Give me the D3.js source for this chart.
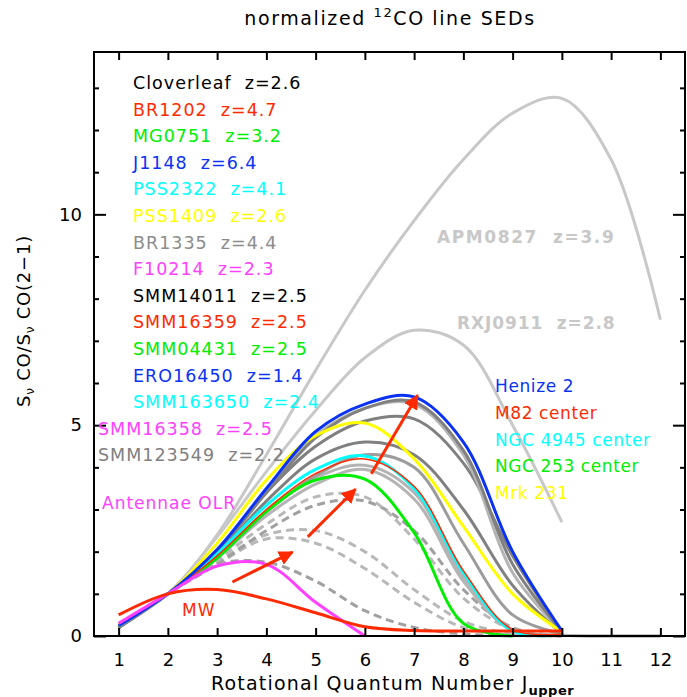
<!DOCTYPE html>
<html>
<head>
<meta charset="utf-8">
<script src="https://cdn.jsdelivr.net/npm/d3@7"></script>
<style>
  html, body { margin: 0; padding: 0; background: #fff; }
  svg { display: block; }
  text { font-family: "DejaVu Sans", sans-serif; }
</style>
</head>
<body>
<div id="chart"></div>
<script>
// Upper rotational level of each CO transition
const jUpper = [1, 2, 3, 4, 5, 6, 7, 8, 9, 10, 11, 12];

// Line fluxes normalised to CO(2-1), one array per source
const apm0827   = [0.25, 1, 2.4, 4.3, 6.3, 8.2, 9.85, 11.3, 12.4, 12.75, 11.3, 7.5];
const rxj0911   = [0.22, 1, 2.35, 3.9, 5.35, 6.6, 7.25, 6.9, 5.0, 2.7];
const henize2   = [0.25, 1, 2.05, 3.5, 4.85, 5.5, 5.67, 4.6, 2.0, 0.12];
const m82       = [0.25, 1, 1.9, 3.0, 3.85, 4.2, 3.55, 1.55, 0.15, 0.05];
const ngc4945   = [0.25, 1, 1.95, 3.1, 3.95, 4.27, 3.5, 1.5, 0.12, 0.03];
const ngc253    = [0.25, 1, 1.85, 2.95, 3.7, 3.72, 2.45, 0.3, 0.0];
const mrk231    = [0.28, 1, 2.2, 3.7, 4.75, 5.05, 4.2, 2.6, 1.0, 0.1];
const antennae  = [0.3, 1, 1.66, 1.7, 0.8, 0.0];
const milkyWay  = [0.5, 1.0, 1.1, 0.88, 0.55, 0.22, 0.13, 0.12, 0.12, 0.12];

// High-redshift sources (grey curves)
const hzDark1   = [0.2, 1, 2.0, 3.4, 4.7, 5.4, 5.55, 4.4, 1.7, 0.1];
const hzLight1  = [0.22, 1, 2.05, 3.45, 4.75, 5.4, 5.5, 4.3, 1.5, 0.1];
const hzDark2   = [0.2, 1, 2.0, 3.4, 4.5, 5.1, 5.15, 4.1, 1.9, 0.1];
const hzDark3   = [0.2, 1, 1.95, 3.2, 4.2, 4.6, 4.3, 3.0, 1.2, 0.05];
const hzMid1    = [0.2, 1, 1.85, 2.95, 3.8, 4.3, 4.0, 2.2, 0.5, 0.05];
const hzLight2  = [0.22, 1, 1.9, 2.95, 3.75, 4.05, 3.4, 1.4, 0.15, 0.02, 0.0, 0.0];
const hzLight3  = [0.22, 1, 1.85, 2.85, 3.6, 3.95, 3.25, 1.3, 0.12, 0.02, 0.0, 0.0];
const hzDash1   = [0.2, 1, 1.8, 2.65, 3.3, 3.3, 2.3, 0.9, 0.15, 0.0];
const hzDash2   = [0.2, 1, 1.7, 2.5, 3.1, 3.2, 2.5, 1.1, 0.2, 0.0];
const hzDash3   = [0.2, 1, 1.75, 2.4, 2.5, 2.0, 1.1, 0.35, 0.05, 0.0];
const hzDash4   = [0.2, 1, 1.7, 2.3, 2.2, 1.6, 0.8, 0.2, 0.02, 0.0];
const hzDash5   = [0.25, 1, 1.7, 1.75, 1.3, 0.6, 0.2, 0.05, 0.0];

// Arrows marking the trend towards higher excitation: [J0, v0, J1, v1]
const arrows = [
  [3.31, 1.28, 4.53, 1.99],
  [4.84, 2.35, 5.81, 3.48],
  [6.13, 3.85, 7.07, 5.71]
];

// Legend entries
const legendNames = ["Cloverleaf  z=2.6", "BR1202  z=4.7", "MG0751  z=3.2", "J1148  z=6.4",
  "PSS2322  z=4.1", "PSS1409  z=2.6", "BR1335  z=4.4", "F10214  z=2.3", "SMM14011  z=2.5",
  "SMM16359  z=2.5", "SMM04431  z=2.5", "ERO16450  z=1.4", "SMM163650  z=2.4",
  "SMM16358  z=2.5", "SMM123549  z=2.2"];
const localNames = ["Henize 2", "M82 center", "NGC 4945 center", "NGC 253 center", "Mrk 231"];

// Axis ticks
const xTicks = [1, 2, 3, 4, 5, 6, 7, 8, 9, 10, 11, 12];
const yMajor = [0, 5, 10];
const yMinor = [1, 2, 3, 4, 6, 7, 8, 9, 11, 12, 13];

// ---- styling ----
const C = {
  black: "#000000", red: "#ff2a00", green: "#00ee00", blue: "#0a32f5",
  cyan: "#00ffff", yellow: "#ffff00", gray: "#8c8c8c", magenta: "#ff40ff",
  dark: "#808080", mid: "#9c9c9c", light: "#b4b4b4", pale: "#c8c8c8", dash: "#b8b8b8", dashDark: "#a0a0a0"
};
const legendColors = [C.black, C.red, C.green, C.blue, C.cyan, C.yellow, C.gray, C.magenta,
  C.black, C.red, C.green, C.blue, C.cyan, C.magenta, "#808080"];
const localColors = [C.blue, C.red, C.cyan, C.green, C.yellow];

const series = [
  { v: hzDash5, color: C.dashDark, dash: "8,5" },
  { v: hzDash4, color: C.dash, dash: "8,5" },
  { v: hzDash3, color: C.dash, dash: "8,5" },
  { v: hzDash2, color: C.dashDark, dash: "8,5" },
  { v: hzDash1, color: C.dash, dash: "8,5" },
  { v: apm0827, color: C.pale },
  { v: rxj0911, color: C.pale },
  { v: hzLight3, color: C.light },
  { v: hzLight2, color: C.light },
  { v: hzMid1, color: C.mid },
  { v: hzDark3, color: C.dark },
  { v: hzDark2, color: C.dark },
  { v: hzLight1, color: C.light },
  { v: hzDark1, color: C.dark },
  { v: ngc253, color: C.green },
  { v: ngc4945, color: C.cyan },
  { v: m82, color: C.red, width: 1.5 },
  { v: mrk231, color: C.yellow },
  { v: henize2, color: C.blue },
  { v: antennae, color: C.magenta },
  { v: milkyWay, color: C.red }
];

const W = 687, H = 697;
const padL = 94, padR = 685, padT = 52, padB = 636;

const svg = d3.select("#chart").append("svg").attr("width", W).attr("height", H);

const x = d3.scaleLinear().domain([0.5, 12.5]).range([padL, padR]);
const y = d3.scaleLinear().domain([0, 13.85]).range([padB, padT]);

const defs = svg.append("defs");
defs.append("clipPath").attr("id", "plot")
  .append("rect").attr("x", padL).attr("y", padT).attr("width", padR - padL).attr("height", padB - padT + 2);

const line = d3.line()
  .x((d, i) => x(jUpper[i]))
  .y(d => y(d))
  .curve(d3.curveCatmullRom.alpha(0.5));

const gLines = svg.append("g").attr("clip-path", "url(#plot)");
series.forEach(s => {
  gLines.append("path")
    .attr("d", line(s.v))
    .attr("fill", "none")
    .attr("stroke", s.color)
    .attr("stroke-width", s.width || 3)
    .attr("stroke-dasharray", s.dash || null)
    .attr("stroke-linejoin", "round");
});

// Arrows
defs.append("marker").attr("id", "head").attr("viewBox", "0 0 10 10")
  .attr("refX", 9).attr("refY", 5).attr("markerWidth", 5).attr("markerHeight", 5)
  .attr("markerUnits", "strokeWidth").attr("orient", "auto")
  .append("path").attr("d", "M0,0 L10,5 L0,10 Z").attr("fill", C.red);
svg.append("g").selectAll("line").data(arrows).join("line")
  .attr("x1", d => x(d[0])).attr("y1", d => y(d[1]))
  .attr("x2", d => x(d[2])).attr("y2", d => y(d[3]))
  .attr("stroke", C.red).attr("stroke-width", 3)
  .attr("marker-end", "url(#head)");

// Axes with inward ticks on all four sides
const fs = 18;
const gx = svg.append("g").attr("transform", `translate(0,${padB})`)
  .call(d3.axisBottom(x).tickValues(xTicks).tickSize(-8).tickPadding(17).tickFormat(d3.format("d")));
const gxt = svg.append("g").attr("transform", `translate(0,${padT})`)
  .call(d3.axisTop(x).tickValues(xTicks).tickSize(-8).tickFormat(""));
const gy = svg.append("g").attr("transform", `translate(${padL},0)`)
  .call(d3.axisLeft(y).tickValues(yMajor).tickSize(-12).tickPadding(12).tickFormat(d3.format("d")));
const gym = svg.append("g").attr("transform", `translate(${padL},0)`)
  .call(d3.axisLeft(y).tickValues(yMinor).tickSize(-5).tickFormat(""));
const gyr = svg.append("g").attr("transform", `translate(${padR},0)`)
  .call(d3.axisRight(y).tickValues(yMajor).tickSize(-12).tickFormat(""));
const gyrm = svg.append("g").attr("transform", `translate(${padR},0)`)
  .call(d3.axisRight(y).tickValues(yMinor).tickSize(-5).tickFormat(""));
[gx, gxt, gy, gym, gyr, gyrm].forEach(g => {
  g.select(".domain").remove();
  g.selectAll(".tick line").attr("stroke", "#000").attr("stroke-width", 2);
  g.selectAll(".tick text").attr("font-size", fs).attr("fill", "#000")
    .attr("font-family", "DejaVu Sans, sans-serif");
});

svg.append("rect").attr("x", padL).attr("y", padT)
  .attr("width", padR - padL).attr("height", padB - padT)
  .attr("fill", "none").attr("stroke", "#000").attr("stroke-width", 2);

// Title
const title = svg.append("text").attr("x", 390).attr("y", 25).attr("text-anchor", "middle")
  .attr("font-size", 19).attr("letter-spacing", 1.6);
title.append("tspan").text("normalized ");
title.append("tspan").attr("font-size", 13).attr("dy", -8).text("12");
title.append("tspan").attr("dy", 8).text("CO line SEDs");

// X axis title
const xt = svg.append("text").attr("x", 211).attr("y", 690).attr("font-size", 19).attr("letter-spacing", 1.2);
xt.append("tspan").text("Rotational Quantum Number J");
xt.append("tspan").attr("font-size", 13).attr("font-weight", "bold").attr("letter-spacing", 0.5)
  .attr("dy", 5).text("upper");

// Y axis title
const yt = svg.append("text").attr("transform", "translate(30,321) rotate(-90)")
  .attr("text-anchor", "middle").attr("font-size", 18).attr("letter-spacing", 0.8);
yt.append("tspan").text("S");
yt.append("tspan").attr("font-size", 12).attr("dy", 4).text("ν");
yt.append("tspan").attr("dy", -4).text(" CO/S");
yt.append("tspan").attr("font-size", 12).attr("dy", 4).text("ν");
yt.append("tspan").attr("dy", -4).text(" CO(2\u22121)");

// Legend of high-z sources
const legX = [133, 133, 133, 133, 133, 133, 133, 133, 133, 133, 133, 133, 133, 98, 98];
svg.append("g").selectAll("text").data(legendNames).join("text")
  .attr("x", (d, i) => legX[i])
  .attr("y", (d, i) => 89 + i * 26.6)
  .attr("font-size", 17.5).attr("letter-spacing", 1.0)
  .attr("fill", (d, i) => legendColors[i])
  .style("white-space", "pre")
  .text(d => d);

// Local galaxies
svg.append("g").selectAll("text").data(localNames).join("text")
  .attr("x", 495).attr("y", (d, i) => 392 + i * 26.8)
  .attr("font-size", 17).attr("letter-spacing", 0.6)
  .attr("fill", (d, i) => localColors[i])
  .text(d => d);

// Curve labels
const curveLabels = [
  { t: "APM0827  z=3.9", x: 437, y: 243, c: C.pale, b: true, ls: 1.6 },
  { t: "RXJ0911  z=2.8", x: 457, y: 329, c: C.pale, b: true, ls: 0.9 },
  { t: "Antennae OLR", x: 102, y: 509, c: C.magenta, ls: 1.0 },
  { t: "MW", x: 182, y: 616, c: C.red, ls: 1.0 }
];
svg.append("g").selectAll("text").data(curveLabels).join("text")
  .attr("x", d => d.x).attr("y", d => d.y)
  .attr("font-size", 17).attr("letter-spacing", d => d.ls)
  .attr("font-weight", d => d.b ? "bold" : null)
  .attr("fill", d => d.c)
  .style("white-space", "pre")
  .text(d => d.t);
</script>
</body>
</html>
